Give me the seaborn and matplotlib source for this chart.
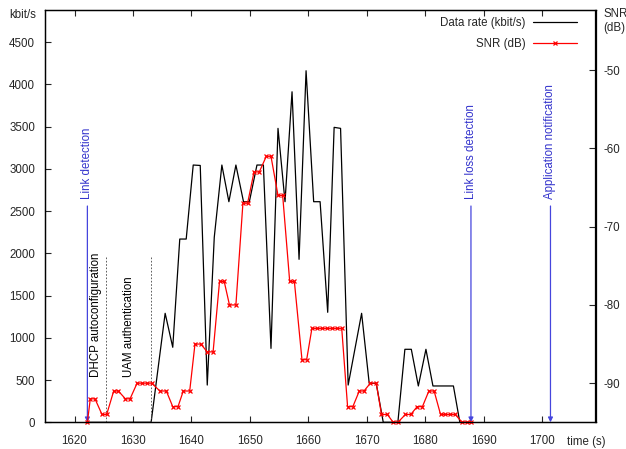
"""Data rate and SNR during a link session."""

import matplotlib

matplotlib.use("Agg")

import matplotlib.pyplot as plt
import pandas as pd
import seaborn as sns


sns.set_theme(style="ticks")
plt.rcParams["font.family"] = ["Liberation Sans", "DejaVu Sans"]
plt.rcParams["font.size"] = 8
plt.rcParams["axes.unicode_minus"] = False

# data rate samples (kbit/s)
rate_time = [1622.2, 1633.1, 1635.5, 1636.8, 1638.0, 1639.1, 1640.3, 1641.5,
             1642.7, 1643.9, 1645.2, 1646.4, 1647.6, 1648.9, 1649.9, 1651.2,
             1652.3, 1653.6, 1654.8, 1656.0, 1657.2, 1658.4, 1659.6, 1660.9,
             1662.0, 1663.3, 1664.4, 1665.5, 1666.8, 1669.1, 1670.4, 1671.6,
             1672.8, 1675.3, 1676.5, 1677.6, 1678.8, 1680.1, 1681.3, 1682.5,
             1684.8, 1685.9, 1687.8]
rate_kbit = [0, 0, 1290, 888, 2169, 2169, 3045, 3040,
             441, 2190, 3045, 2611, 3045, 2611, 2611, 3045,
             3045, 875, 3479, 2611, 3912, 1929, 4161, 2611,
             2611, 1302, 3491, 3479, 441, 1290, 461, 461,
             0, 0, 864, 864, 430, 864, 430, 430,
             430, 0, 0]

# SNR samples (dB)
snr_time = [1622.2, 1622.7, 1623.5, 1624.7, 1625.5, 1626.7, 1627.5, 1628.7,
            1629.5, 1630.7, 1631.5, 1632.4, 1633.2, 1634.6, 1635.7, 1636.8,
            1637.7, 1638.6, 1639.7, 1640.6, 1641.6, 1642.7, 1643.7, 1644.8,
            1645.6, 1646.5, 1647.6, 1648.8, 1649.6, 1650.7, 1651.6, 1652.8,
            1653.6, 1654.8, 1655.6, 1656.8, 1657.6, 1658.9, 1659.7, 1660.6,
            1661.4, 1662.3, 1663.1, 1664.0, 1664.9, 1665.7, 1666.7, 1667.6,
            1668.7, 1669.5, 1670.6, 1671.6, 1672.5, 1673.5, 1674.5, 1675.3,
            1676.6, 1677.5, 1678.6, 1679.5, 1680.6, 1681.5, 1682.6, 1683.4,
            1684.3, 1685.1, 1686.3, 1687.1, 1687.8]
snr_db = [-95, -92, -92, -94, -94, -91, -91, -92,
          -92, -90, -90, -90, -90, -91, -91, -93,
          -93, -91, -91, -85, -85, -86, -86, -77,
          -77, -80, -80, -67, -67, -63, -63, -61,
          -61, -66, -66, -77, -77, -87, -87, -83,
          -83, -83, -83, -83, -83, -83, -93, -93,
          -91, -91, -90, -90, -94, -94, -95, -95,
          -94, -94, -93, -93, -91, -91, -94, -94,
          -94, -94, -95, -95, -95]

# event markers
event_labels = ["Link detection", "Link loss detection", "Application notification"]
event_time = [1622.2, 1687.8, 1701.4]
phase_labels = ["DHCP autoconfiguration", "UAM authentication"]
phase_time = [1623.7, 1629.4]
phase_end = [1625.4, 1633.1]

rate_df = pd.DataFrame({"time": rate_time, "rate": rate_kbit})
snr_df = pd.DataFrame({"time": snr_time, "snr": snr_db})

fig = plt.figure(figsize=(6.26, 4.49), dpi=100)
ax = fig.add_axes([44.7 / 626, 1 - 422.3 / 449, (595.5 - 44.7) / 626, (422.3 - 10) / 449])
ax2 = ax.twinx()

sns.lineplot(data=rate_df, x="time", y="rate", ax=ax, color="black",
             linewidth=0.9, sort=False, label="Data rate (kbit/s)", legend=False)
sns.lineplot(data=snr_df, x="time", y="snr", ax=ax2, color="#ff0000",
             linewidth=0.9, marker="x", markersize=3.5, markeredgewidth=0.9,
             markeredgecolor="#ff0000", sort=False, label="SNR (dB)",
             legend=False, clip_on=False)

ax.set_xlim(1614.9, 1709.1)
ax.set_ylim(0, 4880)
ax2.set_ylim(-95, -42.3)
ax.set_xticks(range(1620, 1701, 10))
ax.set_yticks(range(0, 4501, 500))
ax2.set_yticks([-90, -80, -70, -60, -50])
ax.set_xlabel("")
ax.set_ylabel("")
ax2.set_ylabel("")

ax.tick_params(axis="x", direction="in", length=4, width=0.8, pad=9,
               top=True, labelsize=8.3)
ax.tick_params(axis="y", direction="in", length=4, width=0.8, pad=7,
               labelsize=8.3)
ax2.tick_params(axis="y", direction="in", length=4, width=0.8, pad=6,
                labelsize=8.3)
for a in (ax, ax2):
    for s in a.spines.values():
        s.set_visible(True)
        s.set_color("black")
        s.set_linewidth(0.9)

# blue event arrows
for label, t in zip(event_labels, event_time):
    ax.annotate("", xy=(t, 0), xytext=(t, 2560),
                arrowprops=dict(arrowstyle="-|>", color="#4545dd", lw=0.9,
                                mutation_scale=7, shrinkA=0, shrinkB=0))
    ax.text(t, 2640, label, rotation=90, ha="center", va="bottom",
            color="#3333cc", fontsize=8.3)

# configuration phases
for label, t, t_end in zip(phase_labels, phase_time, phase_end):
    ax.vlines(t_end, 0, 1960, colors="#444444", linestyles=(0, (2, 2)),
              linewidth=0.6)
    ax.text(t, 540, label, rotation=90, ha="center", va="bottom",
            color="black", fontsize=8.3)

handles = ax.get_lines()[:1] + ax2.get_lines()[:1]
ax2.legend(handles, ["Data rate (kbit/s)", "SNR (dB)"], loc="upper right",
           bbox_to_anchor=(577 / 626, 1 - 17 / 449),
           bbox_transform=fig.transFigure, frameon=False, markerfirst=False,
           handlelength=3.8, handletextpad=0.7, labelspacing=0.82,
           borderpad=0, borderaxespad=0, fontsize=8.3, markerscale=1.0)

fig.text(36 / 626, 1 - 15 / 449, "kbit/s", ha="right", va="center", fontsize=8.3)
fig.text(603 / 626, 1 - 21 / 449, "SNR\n(dB)", ha="left", va="center",
         fontsize=8.3, linespacing=1.15)
fig.text(567 / 626, 1 - 442 / 449, "time (s)", ha="left", va="center",
         fontsize=8.3)

fig.savefig("out.png", dpi=100)
plt.close(fig)
